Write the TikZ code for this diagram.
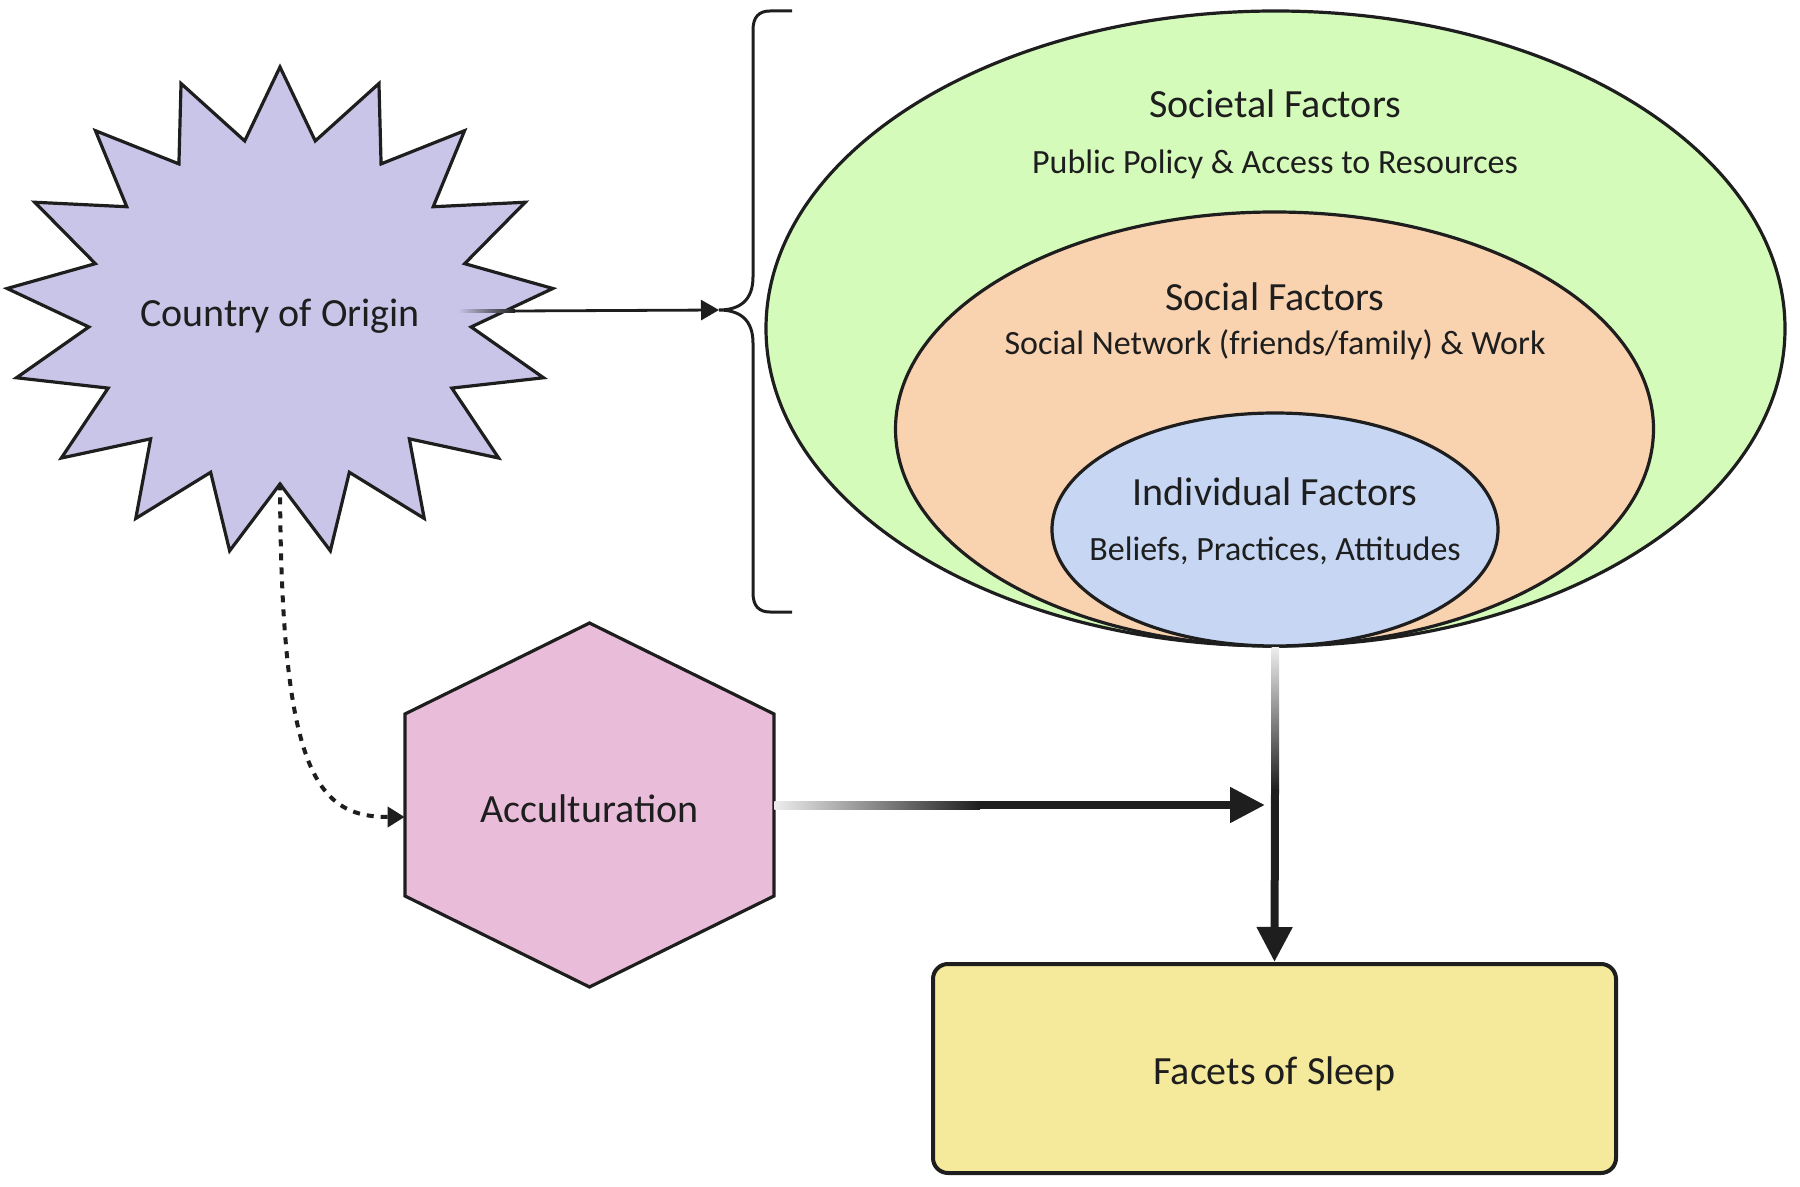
\documentclass[tikz,border=0pt]{standalone}
\usepackage{fontspec}
\setmainfont{Carlito}
\usetikzlibrary{shapes.geometric,arrows.meta}
\definecolor{ink}{HTML}{1E1E1E}
\definecolor{starlav}{HTML}{C9C5E8}
\definecolor{societygreen}{HTML}{D5FBBA}
\definecolor{socialorange}{HTML}{F9D3B0}
\definecolor{indivblue}{HTML}{C7D7F3}
\definecolor{accultpink}{HTML}{E9BDDA}
\definecolor{sleepyellow}{HTML}{F5E99B}
\begin{document}
\begin{tikzpicture}[x=0.5pt, y=-0.5pt,
  outline/.style={draw=ink, line width=1.6pt},
  headtext/.style={text=ink, font=\fontsize{20}{24}\selectfont},
  subtext/.style={text=ink, font=\fontsize{17}{20}\selectfont},
  factor/.style={ellipse, outline, inner sep=0pt},
  thickarrow/.style={draw=ink, line width=4pt, -{Triangle[length=17.5pt,width=17pt]}}]
\useasboundingbox (0,0) rectangle (1800,1187);

% nested factor ellipses
\node[factor, fill=societygreen, minimum width=509.5pt, minimum height=317.5pt] (societal) at (1275.5,328.5) {};
\node[factor, fill=socialorange, minimum width=379pt, minimum height=217pt] (social) at (1274.5,429) {};
\node[factor, fill=indivblue, minimum width=223pt, minimum height=116.5pt] (individual) at (1275,529.5) {};
\node[headtext] (societal-t) at (1275,104) {Societal Factors};
\node[subtext]  (societal-s) at (1275,164) {Public Policy \& Access to Resources};
\node[headtext] (social-t) at (1275,297) {Social Factors};
\node[subtext]  (social-s) at (1275,345) {Social Network (friends/family) \& Work};
\node[headtext] (individual-t) at (1275,492) {Individual Factors};
\node[subtext]  (individual-s) at (1275,551) {Beliefs, Practices, Attitudes};

% brace
\draw[ink, line width=1.5pt] (792,11) -- (770,11) .. controls (759,11) and (753,17) .. (753,30)
  -- (753,277) .. controls (753,300) and (740,310) .. (719,310)
  .. controls (740,310) and (753,320) .. (753,343)
  -- (753,593) .. controls (753,606) and (759,612) .. (770,612) -- (792,612);
\coordinate (bracetip) at (719,310);

% star
\filldraw[outline, fill=starlav, shift={(280,311)}] (270:274 and 244)
  \foreach \k in {1,...,16} { -- ({270+(\k-0.5)*360/17}:192 and 173) -- ({270+\k*360/17}:274 and 244) }
  -- ({270+16.5*360/17}:192 and 173) -- cycle;
\node[headtext, minimum height=167pt] (origin) at (280,316) {Country of Origin};

% hexagon
\filldraw[outline, fill=accultpink] (405,714) -- (589.5,623) -- (774,714) -- (774,896) -- (589.5,987) -- (405,896) -- cycle;
\node[headtext, minimum width=184.5pt] (accult) at (589.5,809) {Acculturation};

% outcome box
\node[draw=ink, line width=2pt, fill=sleepyellow, rounded corners=7.5pt,
      minimum width=341.5pt, minimum height=104.5pt] (sleep) at (1274.5,1068.5) {};
\node[headtext] (sleep-t) at (1274.5,1074) {Facets of Sleep};

% connectors
\coordinate (ostart) at (458,311);
\coordinate (ofade) at (515,311);
\shade[left color=starlav, right color=ink] ([yshift=0.7pt]ostart) rectangle ([yshift=-0.7pt]ofade);
\draw[ink, line width=1.4pt, -{Triangle[length=9pt,width=10pt]}] (ofade) -- (bracetip);

\draw[ink, line width=2pt, dash pattern=on 3.5pt off 3.5pt, -{Triangle[length=8.5pt,width=10pt]}]
  (origin.south) .. controls (281,770) and (315,817) .. ([yshift=-4pt]accult.west);

\coordinate (hfade) at (980,805);
\coordinate (join) at (1265,805);
\shade[left color=ink!8, right color=ink] ([yshift=2pt]accult.east |- hfade) rectangle ([yshift=-2pt]hfade);
\draw[thickarrow] (hfade) -- (join);

\coordinate (vfade) at (1275,790);
\shade[top color=ink!8, bottom color=ink] ([xshift=-2pt]societal.south) rectangle ([xshift=2pt]vfade);
\draw[thickarrow] (vfade) -- (sleep.north);
\end{tikzpicture}
\end{document}
